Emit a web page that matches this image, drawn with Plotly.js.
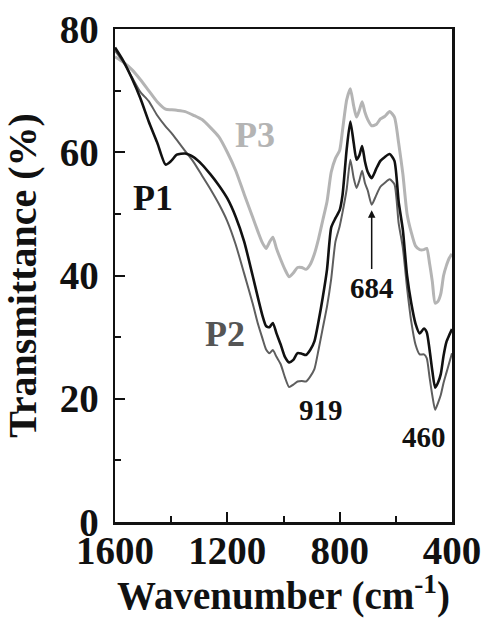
<!DOCTYPE html>
<html>
<head>
<meta charset="utf-8">
<script src="https://cdn.plot.ly/plotly-3.0.1.min.js"></script>
<style>
html,body{margin:0;padding:0;background:#fff;}
#chart{width:484px;height:618px;}
</style>
</head>
<body>
<div id="chart"></div>
<script>
// Wavenumber grid (cm-1)
const wavenumber = [1600,1570,1540,1510,1480,1450,1420,1400,1380,1350,1320,1290,1260,1230,1200,1170,1140,1110,1090,1075,1062,1050,1038,1025,1010,995,980,965,950,935,920,905,890,875,860,845,830,815,800,790,775,762,750,740,730,720,710,700,686,670,655,640,622,605,590,575,560,545,530,515,500,490,480,470,460,450,440,430,420,410,400];

// Transmittance (%) for each sample
const p1 = [77.0,74.8,72.0,68.8,65.0,61.6,58.0,58.6,59.6,59.8,59.2,58.0,56.4,54.6,52.5,49.5,45.5,40.0,36.2,33.5,31.8,31.6,32.3,30.6,28.8,26.8,25.9,26.3,27.4,27.3,27.1,27.9,29.3,32.6,36.5,41.0,47.8,49.3,50.6,53.0,60.5,65.0,61.5,58.8,59.5,61.0,58.5,56.8,55.8,57.3,58.6,59.2,59.7,58.6,52.0,47.4,40.0,35.5,32.2,30.6,31.4,30.8,28.0,24.5,21.8,22.6,24.0,27.0,29.2,30.3,31.3];
const p2 = [76.5,74.6,72.2,69.8,68.3,66.0,64.2,63.2,62.0,60.2,58.4,56.2,54.0,51.6,48.8,45.0,40.3,35.5,32.0,29.8,28.0,27.4,27.9,26.8,25.6,23.5,21.9,22.3,22.8,22.9,22.8,23.6,24.8,28.0,31.5,35.0,39.5,45.5,48.0,50.2,54.0,58.8,55.8,54.2,55.4,57.0,55.0,53.8,51.5,53.0,54.4,55.0,55.6,54.8,48.5,44.5,38.0,32.5,28.8,27.2,27.2,26.6,23.5,20.5,18.2,19.3,20.6,22.6,24.2,25.8,27.4];
const p3 = [75.5,74.6,73.4,71.8,70.0,68.2,67.0,66.9,66.8,66.6,66.0,65.3,64.0,62.5,60.0,57.0,53.2,49.5,47.0,45.3,44.4,45.4,46.2,44.4,42.6,41.0,39.8,40.4,41.3,41.3,41.0,41.8,43.5,46.0,49.0,52.0,56.8,59.0,60.3,63.5,68.5,70.3,67.5,65.7,66.8,68.2,66.5,65.3,64.3,64.5,65.4,65.8,66.6,65.7,61.5,56.5,50.0,47.0,44.8,44.2,44.2,44.4,42.0,39.0,35.5,35.8,37.0,40.0,41.6,42.8,43.5];

const seriesNames = ["P1","P2","P3"];
const xTicks = [1600,1200,800,400];
const yTicks = [0,20,40,60,80];

// Labels in the plot
const labelText = ["P1","P2","P3","684","919","460"];
const labelX = [1466,1210,1103,686,868,498];
const labelY = [52.6,30.5,62.8,38.0,18.2,13.8];
const arrowTip = [686, 50.6];
const arrowTail = [686, 40.8];

const FONT = '"Liberation Serif","Times New Roman",Times,serif';
const lineColors = ["#111111","#5e5e5e","#b4b4b4"];
const lineWidths = [2.6,2.0,3.0];
const labelColors = ["#111111","#555555","#b4b4b4","#111111","#111111","#111111"];
const labelSizes = [36,36,36,29,29,29];

const ys = [p1,p2,p3];
const traces = ys.map((y,i)=>({
  x: wavenumber, y: y, type: 'scatter', mode: 'lines', name: seriesNames[i],
  line: {color: lineColors[i], width: lineWidths[i], shape: 'spline', smoothing: 0.6},
  hoverinfo: 'skip'
}));
// draw P3 first (behind), then P2, then P1
const ordered = [traces[2], traces[1], traces[0]];

const annotations = labelText.map((t,i)=>({
  x: labelX[i], y: labelY[i], xref: 'x', yref: 'y', text: t, showarrow: false,
  font: {family: FONT, size: labelSizes[i], color: labelColors[i], weight: 'bold'},
  xanchor: 'center', yanchor: 'middle'
}));
annotations.push({
  x: arrowTip[0], y: arrowTip[1], ax: arrowTail[0], ay: arrowTail[1],
  xref: 'x', yref: 'y', axref: 'x', ayref: 'y', text: '', showarrow: true,
  arrowhead: 2, arrowsize: 1, arrowwidth: 1.5, arrowcolor: '#111'
});

const layout = {
  width: 484, height: 618,
  margin: {l: 115, r: 32, t: 29, b: 96},
  paper_bgcolor: '#fff', plot_bgcolor: '#fff',
  showlegend: false,
  font: {family: FONT, color: '#111'},
  xaxis: {
    range: [1600, 400], autorange: false,
    tickvals: xTicks, ticktext: xTicks.map(String),
    minor: {tickvals: [1400,1000,600], ticks: 'inside', ticklen: 6, tickwidth: 2, tickcolor: '#111'},
    ticks: 'inside', ticklen: 10, tickwidth: 2, tickcolor: '#111',
    showline: true, linewidth: 2.5, linecolor: '#111', mirror: true,
    showgrid: false, zeroline: false,
    tickfont: {family: FONT, size: 39, color: '#111', weight: 'bold'},
    ticklabelstandoff: -7,
    title: {text: 'Wavenumber (cm<sup>-1</sup>)', font: {family: FONT, size: 39, color: '#111', weight: 'bold'}, standoff: 10},
    automargin: false
  },
  yaxis: {
    range: [0, 80], autorange: false,
    tickvals: yTicks, ticktext: yTicks.map(String),
    minor: {tickvals: [10,30,50,70], ticks: 'inside', ticklen: 6, tickwidth: 2, tickcolor: '#111'},
    ticks: 'inside', ticklen: 10, tickwidth: 2, tickcolor: '#111',
    showline: true, linewidth: 2.5, linecolor: '#111', mirror: true,
    showgrid: false, zeroline: false,
    tickfont: {family: FONT, size: 39, color: '#111', weight: 'bold'},
    ticklabelstandoff: 6,
    title: {text: 'Transmittance (%)', font: {family: FONT, size: 40, color: '#111', weight: 'bold'}, standoff: 14},
    automargin: false
  },
  annotations: annotations
};

Plotly.newPlot('chart', ordered, layout, {displayModeBar: false, staticPlot: true});
</script>
</body>
</html>
